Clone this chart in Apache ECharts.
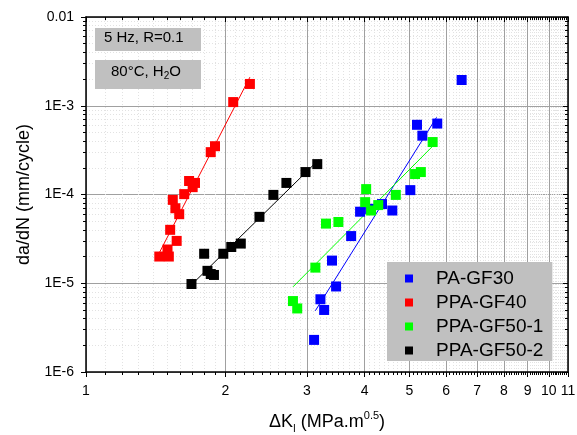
<!DOCTYPE html>
<html>
<head>
<meta charset="utf-8">
<title>da/dN - dK</title>
<script src="https://cdn.jsdelivr.net/npm/echarts@6/dist/echarts.min.js"></script>
</head>
<body style="margin:0">
<div id="main" style="width:577px;height:435px;"></div>
<script type="text/javascript">
// series names and colours
var names = ['PA-GF30', 'PPA-GF40', 'PPA-GF50-1', 'PPA-GF50-2'];
var colors = ['#0000ff', '#ff0000', '#00ff00', '#000000'];

// measured points (dK in MPa.m^0.5, da/dN in mm/cycle)
var paGF30_dK   = [6.48, 5.19, 5.74, 5.33, 5.02, 4.36, 4.11, 3.91, 4.59, 3.74, 3.40, 3.47, 3.21, 3.27, 3.11];
var paGF30_rate = [1.95e-3, 6.1e-4, 6.3e-4, 4.6e-4, 1.12e-4, 7.8e-5, 6.9e-5, 6.4e-5, 6.6e-5, 3.4e-5, 1.8e-5, 9.2e-6, 6.6e-6, 5.0e-6, 2.3e-6];

var ppaGF40_dK   = [2.26, 2.08, 1.90, 1.86, 1.72, 1.67, 1.70, 1.63, 1.54, 1.56, 1.59, 1.52, 1.57, 1.50, 1.44, 1.51];
var ppaGF40_rate = [1.76e-3, 1.1e-3, 3.5e-4, 3.0e-4, 1.35e-4, 1.42e-4, 1.21e-4, 1.01e-4, 8.7e-5, 7.0e-5, 6.0e-5, 4.0e-5, 3.0e-5, 2.4e-5, 2.0e-5, 2.0e-5];

var ppaGF50a_dK   = [5.61, 5.29, 5.14, 4.03, 4.67, 4.01, 4.28, 4.13, 3.51, 3.30, 3.13, 2.80, 2.86];
var ppaGF50a_rate = [3.9e-4, 1.79e-4, 1.7e-4, 1.15e-4, 9.9e-5, 8.2e-5, 7.6e-5, 6.6e-5, 4.9e-5, 4.7e-5, 1.5e-5, 6.3e-6, 5.2e-6];

var ppaGF50b_dK   = [3.16, 2.98, 2.71, 2.54, 2.37, 2.16, 2.06, 1.98, 1.80, 1.83, 1.86, 1.89, 1.69];
var ppaGF50b_rate = [2.2e-4, 1.79e-4, 1.35e-4, 9.9e-5, 5.6e-5, 2.8e-5, 2.56e-5, 2.15e-5, 2.15e-5, 1.38e-5, 1.27e-5, 1.24e-5, 9.8e-6];

// fit lines (end points)
var fitDK   = [[3.13, 5.72], [1.44, 2.26], [2.80, 5.61], [1.69, 3.18]];
var fitRate = [[4.9e-6, 7.4e-4], [2.2e-5, 2.1e-3], [9.1e-6, 3.5e-4], [9.6e-6, 2.45e-4]];

// axis ticks
var xTicks = [1, 2, 3, 4, 5, 6, 7, 8, 9, 10, 11];
var yTicks = [1e-6, 1e-5, 1e-4, 1e-3, 1e-2];
var yTickLabels = ['1E-6', '1E-5', '1E-4', '1E-3', '0.01'];

var lg = function (v) { return Math.log10(v); };
var FONT = 'Arial, "Liberation Sans", sans-serif';

var xMin = lg(1), xMax = lg(11), yMin = lg(1e-6), yMax = lg(1e-2);

// minor ticks: 0.1 steps on x, 2..9 per decade on y
var xMinor = [];
for (var i = 1; i < 11; i++) {
    for (var j = 1; j < 10; j++) xMinor.push(lg(i + j / 10));
}
var yMinor = [];
for (var d = -6; d < -2; d++) {
    for (var k = 2; k < 10; k++) yMinor.push(lg(k * Math.pow(10, d)));
}

function pts(xs, ys) {
    return xs.map(function (x, n) { return [lg(x), lg(ys[n])]; });
}

function minorAxis(pos, values, inside, grid) {
    return {
        type: 'value', position: pos, min: pos === 'left' || pos === 'right' ? yMin : xMin,
        max: pos === 'left' || pos === 'right' ? yMax : xMax,
        axisLine: {show: false, onZero: false},
        axisLabel: {show: false},
        axisTick: {show: true, inside: inside, length: 3, customValues: values,
                   lineStyle: {color: '#000', width: 1}},
        splitLine: {show: grid, lineStyle: {color: '#e2e2e2', type: [1, 2], width: 1}}
    };
}

function mainAxis(pos, values, inside, labels, fmt) {
    return {
        type: 'value', position: pos, min: pos === 'left' || pos === 'right' ? yMin : xMin,
        max: pos === 'left' || pos === 'right' ? yMax : xMax,
        axisLine: {show: true, onZero: false, lineStyle: {color: '#000', width: 1.5}},
        axisTick: {show: true, inside: inside, length: 5, customValues: values,
                   lineStyle: {color: '#000', width: 1}},
        axisLabel: {show: labels, customValues: values, formatter: fmt, margin: 12,
                    color: '#000', fontSize: 14, fontFamily: FONT},
        splitLine: {show: labels, lineStyle: {color: '#a0a0a0', width: 1}}
    };
}

var xAxes = [
    minorAxis('bottom', xMinor, false, true),
    minorAxis('top', xMinor, true, false),
    mainAxis('bottom', xTicks.map(lg), false, true, function (v) { return Math.round(Math.pow(10, v)); }),
    mainAxis('top', xTicks.map(lg), true, false)
];
xAxes[2].name = '{a|ΔK}{sub|I}{a| (MPa.m}{sup|0.5}{a|)}';
xAxes[2].nameLocation = 'middle';
xAxes[2].nameGap = 38;
xAxes[2].nameTextStyle = {
    color: '#000', fontFamily: FONT,
    rich: {
        a: {fontSize: 18, fontFamily: FONT, color: '#000', lineHeight: 24},
        sub: {fontSize: 10, fontFamily: FONT, color: '#000', verticalAlign: 'bottom', lineHeight: 24},
        sup: {fontSize: 11, fontFamily: FONT, color: '#000', verticalAlign: 'top', lineHeight: 18}
    }
};

var yAxes = [
    minorAxis('left', yMinor, false, true),
    minorAxis('right', yMinor, true, false),
    mainAxis('left', yTicks.map(lg), false, true, function (v) { return yTickLabels[Math.round(v) + 6]; }),
    mainAxis('right', yTicks.map(lg), true, false)
];
yAxes[2].name = 'da/dN (mm/cycle)';
yAxes[2].nameLocation = 'middle';
yAxes[2].nameGap = 49;
yAxes[2].nameTextStyle = {color: '#000', fontSize: 18, fontFamily: FONT};

var pointSets = [
    pts(paGF30_dK, paGF30_rate),
    pts(ppaGF40_dK, ppaGF40_rate),
    pts(ppaGF50a_dK, ppaGF50a_rate),
    pts(ppaGF50b_dK, ppaGF50b_rate)
];

var series = [];
names.forEach(function (name, n) {
    series.push({
        name: name + ' fit', type: 'line', xAxisIndex: 2, yAxisIndex: 2,
        data: pts(fitDK[n], fitRate[n]), showSymbol: false, silent: true,
        lineStyle: {color: colors[n], width: 1}, z: 3
    });
});
names.forEach(function (name, n) {
    series.push({
        name: name, type: 'scatter', xAxisIndex: 2, yAxisIndex: 2,
        data: pointSets[n], symbol: 'rect', symbolSize: 10,
        itemStyle: {color: colors[n], opacity: 1}, z: 4
    });
});

var myChart = echarts.init(document.getElementById('main'));

var option = {
    animation: false,
    backgroundColor: '#fff',
    grid: {left: 86, top: 17, right: 9, bottom: 63, outerBoundsMode: 'none', containLabel: false},
    xAxis: xAxes,
    yAxis: yAxes,
    legend: {
        data: names,
        orient: 'vertical',
        left: 387, top: 262,
        backgroundColor: '#c0c0c0',
        padding: [7, 9, 1, 18],
        itemGap: 5,
        itemWidth: 8, itemHeight: 8,
        icon: 'rect',
        selectedMode: false,
        textStyle: {fontSize: 19, fontFamily: FONT, color: '#000', lineHeight: 18, padding: [0, 0, 0, 18]}
    },
    graphic: [
        {type: 'rect', left: 95, top: 28, shape: {width: 106, height: 23}, style: {fill: '#c0c0c0'}, z: 10},
        {type: 'text', left: 104, top: 30, z: 11,
         style: {text: '5 Hz, R=0.1', fontSize: 15, fontFamily: FONT, fill: '#000'}},
        {type: 'rect', left: 95, top: 60, shape: {width: 106, height: 29}, style: {fill: '#c0c0c0'}, z: 10},
        {type: 'text', left: 111, top: 64, z: 11,
         style: {
             text: '{a|80°C, H}{s|2}{a|O}',
             rich: {
                 a: {fontSize: 15, fontFamily: FONT, fill: '#000', lineHeight: 20},
                 s: {fontSize: 10, fontFamily: FONT, fill: '#000', verticalAlign: 'bottom', lineHeight: 20}
             }
         }}
    ],
    series: series
};

myChart.setOption(option);
</script>
</body>
</html>
